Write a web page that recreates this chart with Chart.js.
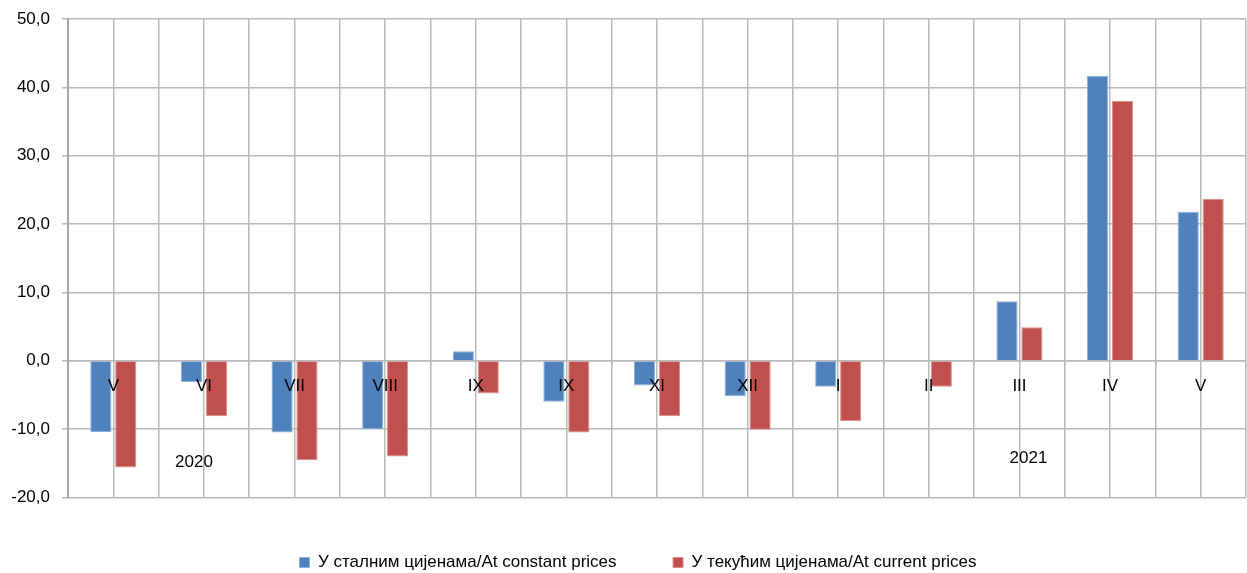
<!DOCTYPE html>
<html>
<head>
<meta charset="utf-8">
<script src="https://cdn.jsdelivr.net/npm/chart.js@4/dist/chart.umd.min.js"></script>
<style>
  html, body { margin: 0; padding: 0; background: #fff; }
  #wrap { position: relative; width: 1247px; height: 573px; }
</style>
</head>
<body>
<div id="wrap"><canvas id="chart"></canvas></div>
<script>
// 1) Data
const months = ['V', 'VI', 'VII', 'VIII', 'IX', 'IX', 'XI', 'XII', 'I', 'II', 'III', 'IV', 'V'];
const constantPrices = [-10.4, -3.1, -10.5, -10.0, 1.4, -6.0, -3.6, -5.2, -3.8, 0.1, 8.7, 41.7, 21.8];
const currentPrices  = [-15.6, -8.1, -14.5, -14.0, -4.8, -10.5, -8.1, -10.1, -8.8, -3.8, 4.9, 38.0, 23.7];
const seriesNames = ['У сталним цијенама/At constant prices', 'У текућим цијенама/At current prices'];
const yearLabels = ['2020', '2021'];

// 2) Styles
const FONT = "'Liberation Sans', Arial, sans-serif";
const FONT_SIZE = 17;
const gridColor = '#b9b9b9';

// year captions sit under the bars, placed by category index / value
const yearPlugin = {
  id: 'yearLabels',
  afterLayout(chart) {
    // legend in the original is centred a bit right of the canvas middle
    chart.legend.left += 15;
    chart.legend.right += 15;
  },
  afterDatasetsDraw(chart) {
    const {ctx, scales: {x, y}} = chart;
    const spots = [[0.89, -14.8], [10.1, -14.3]];
    ctx.save();
    ctx.font = FONT_SIZE + 'px ' + FONT;
    ctx.fillStyle = '#000';
    ctx.textAlign = 'center';
    ctx.textBaseline = 'middle';
    yearLabels.forEach((t, i) => {
      ctx.fillText(t, x.getPixelForValue(spots[i][0]), y.getPixelForValue(spots[i][1]));
    });
    ctx.restore();
  }
};

// 3) Chart
new Chart(document.getElementById('chart'), {
  type: 'bar',
  data: {
    labels: months,
    datasets: [
      {
        label: seriesNames[0],
        data: constantPrices,
        backgroundColor: '#4f81bd',
        borderColor: '#8fb0dc',
        borderWidth: 1
      },
      {
        label: seriesNames[1],
        data: currentPrices,
        backgroundColor: '#c0504d',
        borderColor: '#dc8e8c',
        borderWidth: 1
      }
    ]
  },
  options: {
    responsive: true,
    maintainAspectRatio: false,
    animation: false,
    categoryPercentage: 0.55,
    barPercentage: 0.85,
    layout: { padding: { left: 0, right: 1, top: 19, bottom: -8 } },
    scales: {
      x: {
        position: { y: 0 },
        offset: true,
        grid: { color: gridColor, lineWidth: 1.5, offset: true, tickLength: 5 },
        border: { color: gridColor, width: 1.5 },
        // month labels are printed over the bars
        ticks: { z: 1, color: '#000', padding: 10, font: { family: FONT, size: FONT_SIZE }, maxRotation: 0 }
      },
      x2: {
        type: 'category',
        labels: months,
        position: 'top',
        offset: true,
        grid: { color: gridColor, lineWidth: 1.5, offset: false, drawTicks: false },
        border: { display: false },
        ticks: { display: false },
        afterFit: s => { s.height = 0; }
      },
      y: {
        min: -20,
        max: 50,
        afterFit: s => { s.width = 68; s.paddingTop = 0; s.paddingBottom = 0; },
        grid: { color: gridColor, lineWidth: 1.5, tickLength: 6 },
        border: { color: '#a6a6a6', width: 2 },
        ticks: {
          stepSize: 10,
          color: '#000',
          padding: 12,
          font: { family: FONT, size: FONT_SIZE },
          callback: v => v.toFixed(1).replace('.', ',')
        }
      }
    },
    plugins: {
      legend: {
        position: 'bottom',
        labels: {
          boxWidth: 10,
          boxHeight: 10,
          padding: 56.5,
          color: '#000',
          font: { family: FONT, size: FONT_SIZE }
        }
      },
      tooltip: { enabled: false }
    }
  },
  plugins: [yearPlugin]
});
</script>
</body>
</html>
